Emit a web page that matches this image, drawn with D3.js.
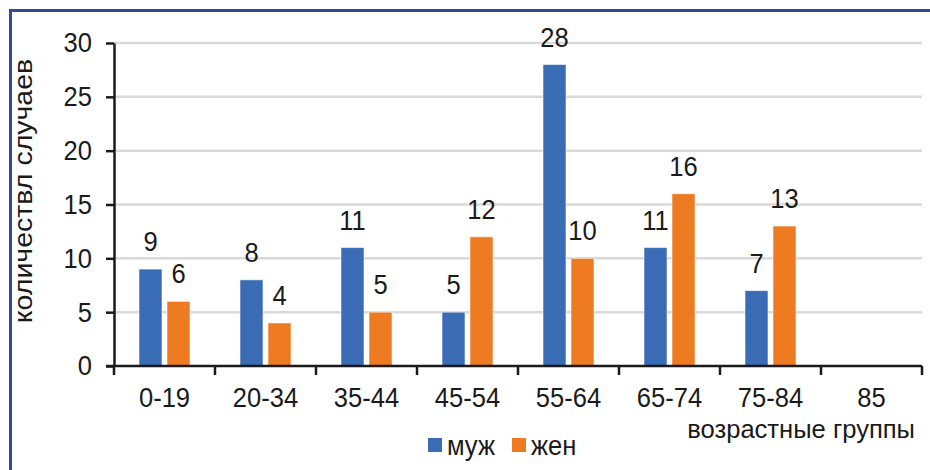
<!DOCTYPE html>
<html>
<head>
<meta charset="utf-8">
<script src="https://cdn.jsdelivr.net/npm/d3@7"></script>
<style>
  html, body { margin: 0; padding: 0; background: #fff; }
  svg { display: block; font-family: "Liberation Sans", Arial, sans-serif; }
  .axis path, .axis line { stroke: #1a1a1a; }
  .axis text { fill: #1a1a1a; font-size: 28px; font-family: "Liberation Sans", Arial, sans-serif; }
</style>
</head>
<body>
<svg id="chart" width="930" height="470"></svg>
<script>
// Age groups and case counts by sex
const categories = ["0-19", "20-34", "35-44", "45-54", "55-64", "65-74", "75-84", "85"];
const maleValues = [9, 8, 11, 5, 28, 11, 7, null];
const femaleValues = [6, 4, 5, 12, 10, 16, 13, null];
const seriesNames = ["муж", "жен"];
const yTicks = [0, 5, 10, 15, 20, 25, 30];

const colors = { "муж": "#3a6bb5", "жен": "#ee7b22" };
const FS = 28;        // label font size
const SQ = 0.913;     // horizontal squeeze of the lettering
const svg = d3.select("#chart");
const W = 930, H = 470;

// frame
svg.append("rect")
  .attr("x", 10.5).attr("y", 10.5)
  .attr("width", W + 20).attr("height", H + 20)
  .attr("fill", "#fff").attr("stroke", "#2c4b98").attr("stroke-width", 3);

const plot = { left: 114, right: 922, top: 43, bottom: 366 };

const x = d3.scaleBand().domain(categories).range([plot.left, plot.right]).padding(0);
const xs = d3.scaleBand().domain(seriesNames).range([0, x.bandwidth()])
  .paddingInner(5 / 28).paddingOuter(0.893);
const y = d3.scaleLinear().domain([0, 30]).range([plot.bottom, plot.top]);

// place a text at (px, py) with narrowed lettering
function label(parent, px, py, txt, anchor, size, squeeze) {
  return parent.append("text")
    .attr("transform", `translate(${px},${py}) scale(${squeeze || SQ},1)`)
    .attr("text-anchor", anchor || "middle")
    .attr("font-size", size || FS)
    .attr("fill", "#1a1a1a")
    .text(txt);
}

// gridlines
svg.append("g")
  .selectAll("line")
  .data(yTicks.filter(d => d > 0))
  .join("line")
  .attr("x1", plot.left).attr("x2", plot.right)
  .attr("y1", d => y(d)).attr("y2", d => y(d))
  .attr("stroke", "#d9d9d9").attr("stroke-width", 2.5);

// bars
const rows = categories.map((c, i) => ({
  cat: c,
  vals: [{ s: "муж", v: maleValues[i] }, { s: "жен", v: femaleValues[i] }]
}));

const groups = svg.append("g").selectAll("g")
  .data(rows).join("g")
  .attr("transform", d => `translate(${x(d.cat)},0)`);

groups.selectAll("rect")
  .data(d => d.vals.filter(v => v.v != null))
  .join("rect")
  .attr("x", d => xs(d.s))
  .attr("width", xs.bandwidth())
  .attr("y", d => y(d.v))
  .attr("height", d => y(0) - y(d.v))
  .attr("fill", d => colors[d.s])
  .attr("stroke", "rgba(255,255,255,0.55)")
  .attr("stroke-width", 1);

groups.each(function (d) {
  const g = d3.select(this);
  d.vals.filter(v => v.v != null).forEach(v => {
    label(g, xs(v.s) + xs.bandwidth() / 2, y(v.v) - 18, v.v);
  });
});

// y axis
const yAxis = svg.append("g")
  .attr("class", "axis")
  .attr("transform", `translate(${plot.left},0)`)
  .call(d3.axisLeft(y).tickValues(yTicks).tickSize(8).tickSizeOuter(0));
yAxis.select(".domain").attr("stroke-width", 2.5);
yAxis.selectAll(".tick line").attr("stroke-width", 2.5);
yAxis.selectAll(".tick text")
  .attr("x", -22 / SQ)
  .attr("transform", `scale(${SQ},1)`);

// x axis
const xAxis = svg.append("g")
  .attr("class", "axis")
  .attr("transform", `translate(0,${plot.bottom})`)
  .call(d3.axisBottom(x).tickSize(0).tickPadding(21).tickSizeOuter(0));
xAxis.select(".domain").remove();
xAxis.selectAll(".tick text").attr("transform", `scale(${SQ},1)`);
xAxis.append("line")
  .attr("x1", plot.left - 8).attr("x2", plot.right)
  .attr("stroke", "#1a1a1a").attr("stroke-width", 2.5);
xAxis.selectAll(".bound")
  .data(categories.map(c => x(c)).concat([plot.right]))
  .join("line")
  .attr("class", "bound")
  .attr("x1", d => d).attr("x2", d => d)
  .attr("y1", 0).attr("y2", 9)
  .attr("stroke", "#1a1a1a").attr("stroke-width", 2.5);

// axis titles
svg.append("text")
  .attr("transform", `translate(32,191) rotate(-90) scale(1,0.9)`)
  .attr("text-anchor", "middle")
  .attr("font-size", 28.5)
  .attr("fill", "#1a1a1a")
  .text("количествл случаев");

label(svg, 915, 438, "возрастные группы", "end", 26.5, 0.965);

// legend
const legend = svg.append("g").attr("transform", "translate(428,438)");
const legendOffsets = [0, 84];
seriesNames.forEach((s, i) => {
  const g = legend.append("g").attr("transform", `translate(${legendOffsets[i]},0)`);
  g.append("rect").attr("width", 14).attr("height", 14).attr("fill", colors[s]);
  label(g, 19, 17, s, "start");
});
</script>
</body>
</html>
